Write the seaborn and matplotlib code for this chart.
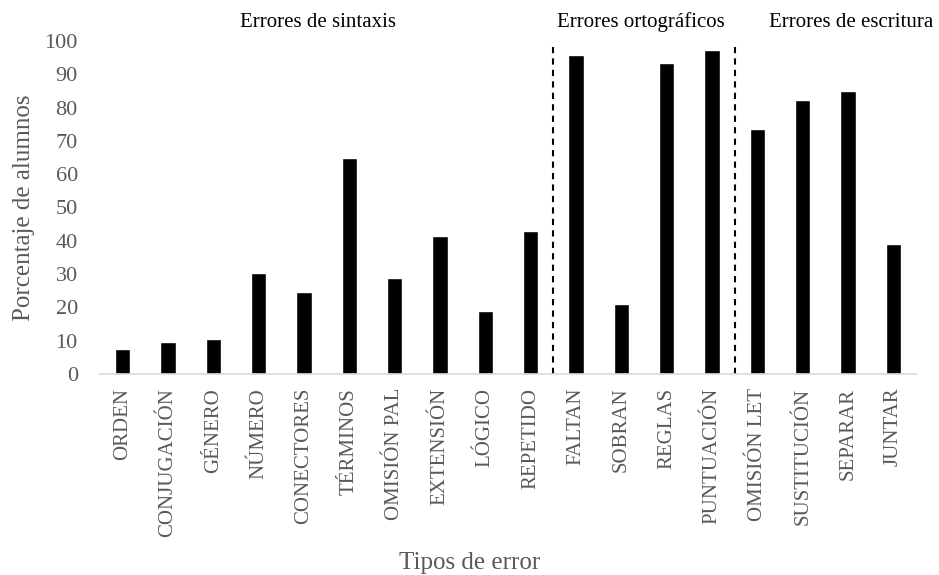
import pandas as pd
import numpy as np
import matplotlib
matplotlib.use("Agg")
import matplotlib.pyplot as plt
import seaborn as sns

# Data
categorias = ["ORDEN", "CONJUGACIÓN", "GÉNERO", "NÚMERO", "CONECTORES", "TÉRMINOS",
              "OMISIÓN PAL", "EXTENSIÓN", "LÓGICO", "REPETIDO", "FALTAN", "SOBRAN",
              "REGLAS", "PUNTUACIÓN", "OMISIÓN LET", "SUSTITUCIÓN", "SEPARAR", "JUNTAR"]
porcentajes = [7.4, 9.5, 10.5, 30.2, 24.5, 65.0,
               28.8, 41.3, 18.9, 42.8, 95.7, 20.9,
               93.4, 97.3, 73.7, 82.4, 85.1, 38.9]
grupos = ["Errores de sintaxis", "Errores ortográficos", "Errores de escritura"]
grupo_x = [4.3, 11.43, 16.07]
separadores = [9.5, 13.5]

df = pd.DataFrame({"Tipo": categorias, "Porcentaje": porcentajes})

sns.set_style("white")
plt.rcParams['font.family'] = ['Liberation Serif', 'DejaVu Serif']

fig = plt.figure(figsize=(9.39, 5.75), dpi=100)
ax = fig.add_axes([0.1065, 0.3496, 0.869, 0.5791])

sns.barplot(data=df, x="Tipo", y="Porcentaje", color="black", width=0.34,
            saturation=1, ax=ax)

# Dashed separators between groups
ax.vlines(separadores, 0, 99, colors="black", linestyles=(0, (3, 2.5)), linewidth=1.5)

# Group titles
for g, xg in zip(grupos, grupo_x):
    ax.text(xg, 105.7, g, ha="center", va="center", fontsize=15, color="black", clip_on=False)

ax.set_ylim(0, 100)
ax.set_xlim(-0.5, len(categorias) - 0.5)
ax.set_yticks(np.arange(0, 101, 10))
ax.tick_params(axis="y", labelsize=16, labelcolor="#595959", length=0, pad=16)
ax.tick_params(axis="x", labelsize=15, labelcolor="#595959", length=0, pad=10)
plt.setp(ax.get_xticklabels(), rotation=90)

ax.set_ylabel("Porcentaje de alumnos", fontsize=18, color="#595959")
ax.set_xlabel("Tipos de error", fontsize=18, color="#595959")
ax.yaxis.set_label_coords(-0.080, 0.5)
ax.xaxis.set_label_coords(0.453, -0.535)

for s in ["top", "right", "left"]:
    ax.spines[s].set_visible(False)
ax.spines["bottom"].set_color("#d9d9d9")
ax.spines["bottom"].set_linewidth(1.2)

plt.savefig("out.png", dpi=100)
